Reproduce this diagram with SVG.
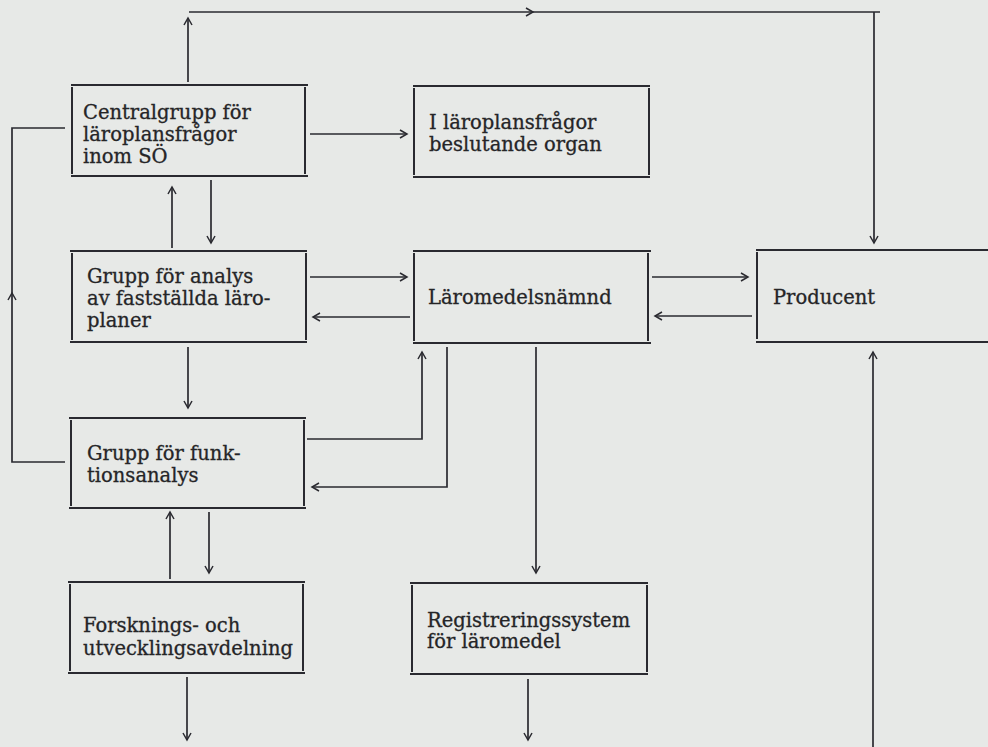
<svg xmlns="http://www.w3.org/2000/svg" width="988" height="747" viewBox="0 0 988 747">
<style>
.bg{fill:#e7e9e7}
.box line{stroke:#2a2a30;stroke-width:2;stroke-linecap:butt}
.lbl{font-family:"DejaVu Serif","Liberation Serif",serif;font-size:19.5px;fill:#252527;stroke:#252527;stroke-width:0.3}
#connectors path,#connectors line{fill:none;stroke:#2a2a30;stroke-width:1.7}
.arr{marker-end:url(#ah)}
</style>
<defs>
<marker id="ah" markerUnits="userSpaceOnUse" markerWidth="12" markerHeight="12" refX="8" refY="5" orient="auto" viewBox="0 0 12 10">
<path d="M1,1 L8,5 L1,9" fill="none" stroke="#2a2a30" stroke-width="1.5"/>
</marker>
</defs>
<rect class="bg" x="0" y="0" width="988" height="747"/>

<g id="n-central" class="box">
<line x1="71" y1="85" x2="308" y2="85"/><line x1="71" y1="176" x2="308" y2="176"/>
<line x1="72" y1="87" x2="72" y2="174"/><line x1="305" y1="87" x2="305" y2="174"/>
<text class="lbl" x="83" y="119">Centralgrupp för</text>
<text class="lbl" x="83" y="141">läroplansfrågor</text>
<text class="lbl" x="83" y="163">inom SÖ</text>
</g>

<g id="n-beslut" class="box">
<line x1="413" y1="86" x2="650" y2="86"/><line x1="413" y1="177" x2="650" y2="177"/>
<line x1="414" y1="88" x2="414" y2="175"/><line x1="649" y1="88" x2="649" y2="175"/>
<text class="lbl" x="429" y="129">I läroplansfrågor</text>
<text class="lbl" x="429" y="151">beslutande organ</text>
</g>

<g id="n-analys" class="box">
<line x1="70" y1="251" x2="307" y2="251"/><line x1="70" y1="342" x2="307" y2="342"/>
<line x1="72" y1="253" x2="72" y2="340"/><line x1="306" y1="253" x2="306" y2="340"/>
<text class="lbl" x="87" y="283">Grupp för analys</text>
<text class="lbl" x="87" y="305">av fastställda läro-</text>
<text class="lbl" x="87" y="327">planer</text>
</g>

<g id="n-namnd" class="box">
<line x1="413" y1="251" x2="651" y2="251"/><line x1="413" y1="343" x2="651" y2="343"/>
<line x1="414" y1="253" x2="414" y2="341"/><line x1="648" y1="253" x2="648" y2="341"/>
<text class="lbl" x="428" y="304">Läromedelsnämnd</text>
</g>

<g id="n-producent" class="box">
<line x1="756" y1="250" x2="988" y2="250"/><line x1="756" y1="342" x2="988" y2="342"/>
<line x1="757" y1="252" x2="757" y2="339"/>
<text class="lbl" x="773" y="304">Producent</text>
</g>

<g id="n-funktion" class="box">
<line x1="69" y1="418" x2="306" y2="418"/><line x1="69" y1="508" x2="306" y2="508"/>
<line x1="71" y1="420" x2="71" y2="506"/><line x1="304" y1="420" x2="304" y2="506"/>
<text class="lbl" x="87" y="460">Grupp för funk-</text>
<text class="lbl" x="87" y="482">tionsanalys</text>
</g>

<g id="n-forskning" class="box">
<line x1="68" y1="582" x2="305" y2="582"/><line x1="68" y1="673" x2="305" y2="673"/>
<line x1="70" y1="584" x2="70" y2="671"/><line x1="303" y1="584" x2="303" y2="671"/>
<text class="lbl" x="83" y="632">Forsknings- och</text>
<text class="lbl" x="83" y="655">utvecklingsavdelning</text>
</g>

<g id="n-register" class="box">
<line x1="410" y1="583" x2="648" y2="583"/><line x1="410" y1="674" x2="648" y2="674"/>
<line x1="412" y1="585" x2="412" y2="672"/><line x1="647" y1="585" x2="647" y2="672"/>
<text class="lbl" x="427" y="627">Registreringssystem</text>
<text class="lbl" x="427" y="648">för läromedel</text>
</g>

<g id="connectors">
<line class="arr" x1="188" y1="82" x2="188" y2="18"/>
<line class="arr" x1="189" y1="12" x2="533" y2="12"/>
<path class="arr" d="M533,12 H880 M874,12 V243"/>
<path class="arr" d="M65,462 H12 V293"/>
<path d="M12,293 V128 H65"/>
<line class="arr" x1="310" y1="134" x2="407" y2="134"/>
<line class="arr" x1="172" y1="248" x2="172" y2="187"/>
<line class="arr" x1="211" y1="180" x2="211" y2="243"/>
<line class="arr" x1="310" y1="277" x2="407" y2="277"/>
<line class="arr" x1="410" y1="317" x2="313" y2="317"/>
<line class="arr" x1="188" y1="347" x2="188" y2="408"/>
<path class="arr" d="M307,439 H422 V352"/>
<path class="arr" d="M447,347 V487 H312"/>
<line class="arr" x1="652" y1="277" x2="748" y2="277"/>
<line class="arr" x1="752" y1="316" x2="655" y2="316"/>
<line class="arr" x1="536" y1="347" x2="536" y2="573"/>
<line class="arr" x1="873" y1="747" x2="873" y2="352"/>
<line class="arr" x1="170" y1="579" x2="170" y2="512"/>
<line class="arr" x1="209" y1="512" x2="209" y2="573"/>
<line class="arr" x1="187" y1="677" x2="187" y2="740"/>
<line class="arr" x1="528" y1="679" x2="528" y2="740"/>
</g>
</svg>
